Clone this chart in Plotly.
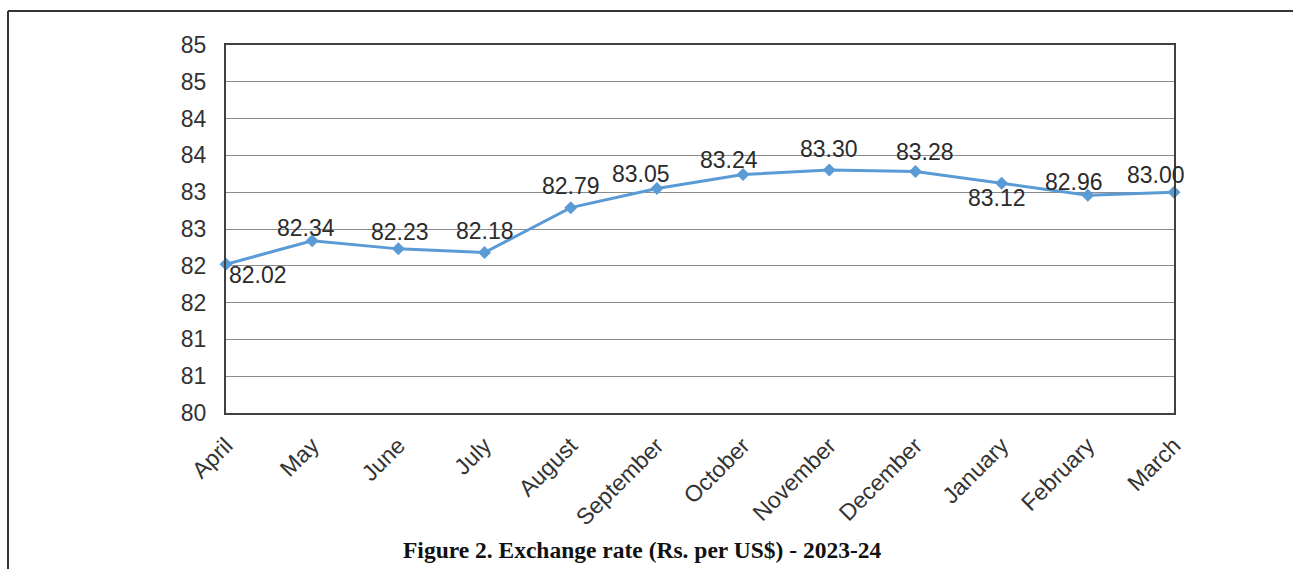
import plotly.graph_objects as go

months = ["April", "May", "June", "July", "August", "September", "October",
          "November", "December", "January", "February", "March"]
rates = [82.02, 82.34, 82.23, 82.18, 82.79, 83.05, 83.24, 83.30, 83.28, 83.12, 82.96, 83.00]
y_tickvals = [80, 80.5, 81, 81.5, 82, 82.5, 83, 83.5, 84, 84.5, 85]
y_ticktext = ["80", "81", "81", "82", "82", "83", "83", "84", "84", "85", "85"]
caption = "Figure 2. Exchange rate (Rs. per US$) - 2023-24"

# label placement offsets (pixels) — styling only
label_dx = [32, -6, 2, 0, 0, -16, -14, 0, 10, -5, -14, -18]
label_dy = [-11, 13, 17, 22, 22, 15, 15, 21, 20, -15, 13, 17]

W, H = 1293, 569
ml, mr, mt, mb = 226, 119, 45, 156
pw, ph = W - ml - mr, H - mt - mb

def px(x):
    return (x - ml) / pw

def py(y):
    return (H - mb - y) / ph

fig = go.Figure()
fig.add_trace(go.Scatter(
    x=months, y=rates, mode="lines+markers",
    line=dict(color="#5B9BD5", width=3),
    marker=dict(symbol="diamond", size=10, color="#5B9BD5"),
    cliponaxis=False, showlegend=False,
))

annots = []
for m, v, dx, dy in zip(months, rates, label_dx, label_dy):
    annots.append(dict(x=m, y=v, xref="x", yref="y", text=f"{v:.2f}", showarrow=False,
                       xanchor="center", yanchor="middle", xshift=dx, yshift=dy,
                       font=dict(family="Liberation Sans, Arial", size=23, color="#2b2b2b")))
annots.append(dict(text="<b>" + caption + "</b>", xref="paper", yref="paper",
                   x=px(642), y=py(550), showarrow=False,
                   xanchor="center", yanchor="middle",
                   font=dict(family="Liberation Serif, Times New Roman", size=23.5, color="#111111")))

fig.update_layout(
    width=W, height=H,
    margin=dict(l=ml, r=mr, t=mt, b=mb),
    paper_bgcolor="white", plot_bgcolor="white",
    font=dict(family="Liberation Sans, Arial", size=20, color="#333333"),
    xaxis=dict(type="category", range=[0, len(months) - 1], tickangle=-45,
               showgrid=False, showline=True, linecolor="#404040", linewidth=2,
               mirror=True, ticks="", tickfont=dict(size=23), ticklabelstandoff=8),
    yaxis=dict(range=[80, 85], tickvals=y_tickvals, ticktext=y_ticktext,
               showgrid=True, gridcolor="#8c8c8c", gridwidth=1,
               showline=True, linecolor="#404040", linewidth=2, mirror=True,
               ticks="", tickfont=dict(size=23), ticklabelstandoff=13, zeroline=False),
    shapes=[
        dict(type="line", xref="paper", yref="paper", x0=px(8), x1=px(W + 5),
             y0=py(11), y1=py(11), line=dict(color="#333333", width=2)),
        dict(type="line", xref="paper", yref="paper", x0=px(8), x1=px(8),
             y0=py(11), y1=py(H + 5), line=dict(color="#333333", width=2)),
    ],
    annotations=annots,
)

fig.write_html("out.html")
